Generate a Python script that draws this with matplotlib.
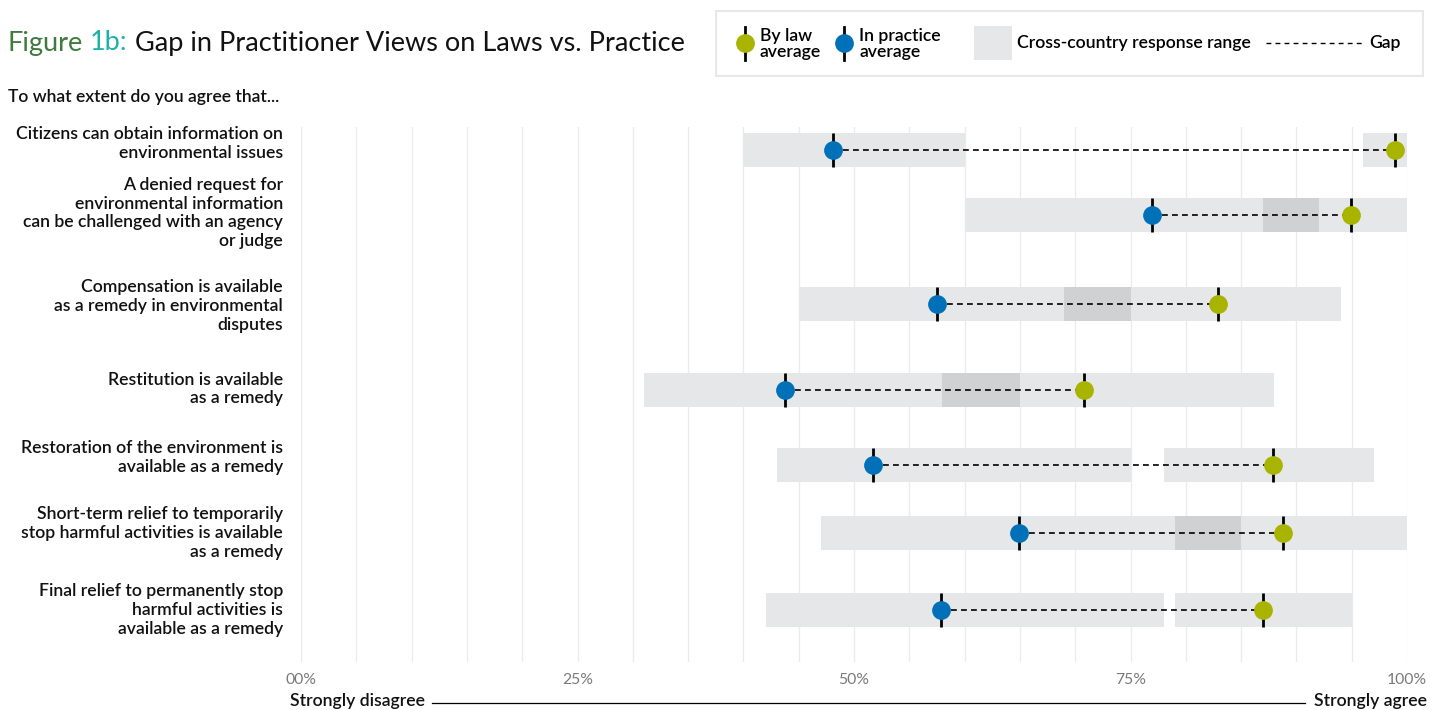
import matplotlib
matplotlib.use("Agg")
import matplotlib.pyplot as plt
from matplotlib.patches import Rectangle
from matplotlib.lines import Line2D

plt.rcParams['font.family'] = ['Lato', 'DejaVu Sans']

# ---------------- data ----------------
categories = [
    "Citizens can obtain information on\nenvironmental issues",
    "A denied request for\nenvironmental information\ncan be challenged with an agency\nor judge",
    "Compensation is available\nas a remedy in environmental\ndisputes",
    "Restitution is available\nas a remedy",
    "Restoration of the environment is\navailable as a remedy",
    "Short-term relief to temporarily\nstop harmful activities is available\nas a remedy",
    "Final relief to permanently stop\nharmful activities is\navailable as a remedy",
]
practice_avg = [48.1, 76.9, 57.5, 43.8, 51.7, 64.9, 57.9]
law_avg = [98.9, 94.9, 82.9, 70.8, 87.9, 88.8, 87.0]
practice_min = [40, 60, 45, 31, 43, 47, 42]
practice_max = [60, 92, 75, 65, 75, 85, 78]
law_min = [96, 87, 69, 58, 78, 79, 79]
law_max = [100, 100, 94, 88, 97, 100, 95]
tick_values = [0, 25, 50, 75, 100]
tick_labels = ["00%", "25%", "50%", "75%", "100%"]

# ---------------- layout (pixels) ----------------
W, H = 1440, 710
row_y = [150, 215, 304, 390, 465, 532.5, 610]
label_y = [143.5, 213, 306, 389, 457.5, 533, 610]
BAR_H = 34
GREEN = "#a8b400"
BLUE = "#0071b8"
LIGHT = "#e6e7e8"
DARK = "#d0d1d3"
GRID = "#ebebeb"
LABEL_W = "semibold"
FS = 12.7

fig = plt.figure(figsize=(W / 100, H / 100), dpi=100)
fig.patch.set_facecolor("white")

ax_l, ax_r, ax_t, ax_b = 301, 1407, 127, 662
ax = fig.add_axes([ax_l / W, 1 - ax_b / H, (ax_r - ax_l) / W, (ax_b - ax_t) / H])
ax.set_xlim(0, 100)
ax.set_ylim(ax_b, ax_t)
for s in ax.spines.values():
    s.set_visible(False)
ax.set_yticks([])
ax.set_xticks(tick_values)
ax.set_xticklabels(tick_labels, color="#7a7a7a", fontsize=11.3, fontweight="normal")
ax.tick_params(axis="x", length=0, pad=8)
for g in range(0, 101, 5):
    ax.axvline(g, color=GRID, lw=1, zorder=0)

# ranges
ax.barh(row_y, [b - a for a, b in zip(practice_min, practice_max)], left=practice_min,
        height=BAR_H, color=LIGHT, zorder=1)
ax.barh(row_y, [b - a for a, b in zip(law_min, law_max)], left=law_min,
        height=BAR_H, color=LIGHT, zorder=1)
ov_left, ov_w, ov_y = [], [], []
for y, pa, pb, la, lb in zip(row_y, practice_min, practice_max, law_min, law_max):
    lo, hi = max(pa, la), min(pb, lb)
    if hi > lo:
        ov_left.append(lo); ov_w.append(hi - lo); ov_y.append(y)
ax.barh(ov_y, ov_w, left=ov_left, height=BAR_H, color=DARK, zorder=1.5)

# gap lines, ticks, dots
for y, p, l in zip(row_y, practice_avg, law_avg):
    ax.plot([p, l], [y, y], color="black", lw=1.2, ls=(0, (3.5, 2.5)), zorder=2)
ax.vlines(practice_avg, [y - BAR_H / 2 for y in row_y], [y + BAR_H / 2 for y in row_y],
          color="black", lw=2, zorder=3)
ax.vlines(law_avg, [y - BAR_H / 2 for y in row_y], [y + BAR_H / 2 for y in row_y],
          color="black", lw=2, zorder=3)
ax.plot(practice_avg, row_y, 'o', color=BLUE, ms=13.5, mew=0, zorder=4)
ax.plot(law_avg, row_y, 'o', color=GREEN, ms=13.5, mew=0, zorder=4)

# row labels
for lab, y in zip(categories, label_y):
    fig.text(283 / W, 1 - y / H, lab, ha="right", va="center", fontsize=FS,
             fontweight=LABEL_W, color="#111111", linespacing=1.2)

# title (multi-coloured)
r = fig.canvas.get_renderer()
title_size = 19.5
part1, part2, part3 = "Figure", "1b:", "Gap in Practitioner Views on Laws vs. Practice"
def width(s):
    t = fig.text(0, 0, s, fontsize=title_size)
    w = t.get_window_extent(r).width
    t.remove()
    return w
x0 = 8
ty = 1 - 43 / H
fig.text(x0 / W, ty, part1, color="#3f7a3f", fontsize=title_size, va="center")
w12 = width(part1 + " " + part2)
fig.text((x0 + w12 - width(part2)) / W, ty, part2, color="#1bb3a6", fontsize=title_size, va="center")
wall = width(part1 + " " + part2 + " " + part3)
fig.text((x0 + wall - width(part3)) / W, ty, part3, color="#111111", fontsize=title_size, va="center")

fig.text(8 / W, 1 - 97 / H, "To what extent do you agree that...", fontsize=12.6,
         fontweight=LABEL_W, color="#111111", va="center")

# bottom scale annotation
fig.text(290 / W, 1 - 701 / H, "Strongly disagree", fontsize=FS, fontweight=LABEL_W,
         va="center", ha="left", color="#111111")
fig.text(1427 / W, 1 - 701 / H, "Strongly agree", fontsize=FS, fontweight=LABEL_W,
         va="center", ha="right", color="#111111")
fig.add_artist(Line2D([432 / W, 1305 / W], [1 - 703 / H, 1 - 703 / H], color="black", lw=0.9))

# legend
lax = fig.add_axes([715 / W, 1 - 77 / H, (1424 - 715) / W, 67 / H])
lax.set_xlim(715, 1424)
lax.set_ylim(77, 10)
lax.axis("off")
lax.add_patch(Rectangle((716, 11), 707, 65, facecolor="white", edgecolor="#e8e8e8", lw=1.6))
for xc, col in [(745, GREEN), (844, BLUE)]:
    lax.plot([xc, xc], [27, 60], color="black", lw=2)
    lax.plot([xc], [43], 'o', color=col, ms=13.5, mew=0)
lax.text(760, 44, "By law\naverage", fontsize=FS, fontweight=LABEL_W, va="center",
         ha="left", linespacing=1.05)
lax.text(859, 44, "In practice\naverage", fontsize=FS, fontweight=LABEL_W, va="center",
         ha="left", linespacing=1.05)
lax.add_patch(Rectangle((974, 26), 38, 34, facecolor=LIGHT, edgecolor="none"))
lax.text(1017, 43, "Cross-country response range", fontsize=FS, fontweight=LABEL_W,
         va="center", ha="left")
lax.plot([1266, 1362], [43, 43], color="black", lw=1.0, ls=(0, (3.5, 3)))
lax.text(1369, 43, "Gap", fontsize=FS, fontweight=LABEL_W, va="center", ha="left")

fig.savefig("out.png", dpi=100, facecolor="white")
